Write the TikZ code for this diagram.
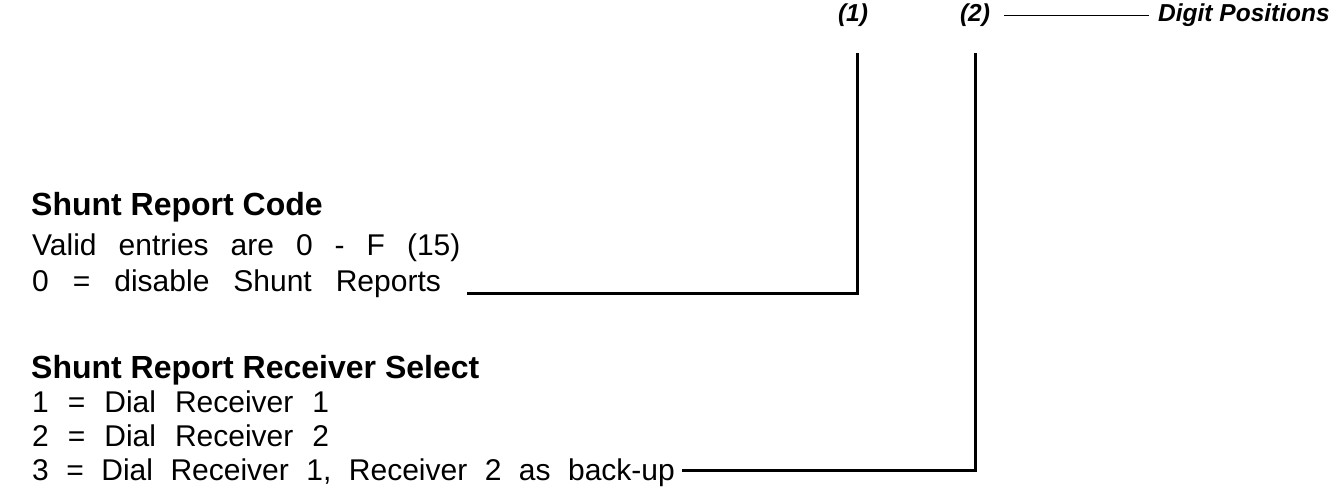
\documentclass[tikz,border=0pt]{standalone}
\usepackage{fontspec}
\setmainfont{Liberation Sans}
\usetikzlibrary{calc}
\begin{document}
\begin{tikzpicture}[x=1pt,y=-1pt,
  head/.style={anchor=base west,inner sep=0pt,font=\fontsize{32}{34}\selectfont\bfseries},
  body/.style={anchor=base west,inner sep=0pt,font=\fontsize{30}{32}\selectfont,
    execute at begin node={\frenchspacing\spaceskip=#1\relax}},
  body/.default=19pt,
  digit/.style={anchor=base,inner sep=0pt,font=\fontsize{24.5}{26}\selectfont\bfseries\itshape},
  conn/.style={line width=3pt,line cap=rect},
  thinline/.style={line width=1.4pt}]
\useasboundingbox (0,0) rectangle (1343,487);
% digit header
\node[digit] (d1) at (853,22) {(1)};
\node[digit] (d2) at (975,22) {(2)};
\node[digit,anchor=base west] (dp) at (1158,22) {Digit Positions};
\draw[thinline] ([xshift=14pt]d2.east) -- ([xshift=-9pt]dp.west);
% block 1
\node[head] (h1) at (31,215) {Shunt Report Code};
\node[body=22pt] (a1) at (32,255) {Valid entries are 0 - F (15)};
\node[body=24pt] (a2) at (32,291) {0 = disable Shunt Reports};
% block 2
\node[head] (h2) at (31,378) {Shunt Report Receiver Select};
\node[body] (b1) at (32,412) {1 = Dial Receiver 1};
\node[body] (b2) at (32,446) {2 = Dial Receiver 2};
\node[body=17.5pt] (b3) at (32,480) {3 = Dial Receiver 1, Receiver 2 as back-up};
% connectors
\coordinate (c1top) at (857,55);
\coordinate (c1end) at ($(a2.base east)+(27,2)$);
\coordinate (c2top) at (975,55);
\coordinate (c2end) at ($(b3.base east)+(8,-10)$);
\draw[conn] (c1top) |- (c1end);
\draw[conn] (c2top) |- (c2end);
\end{tikzpicture}
\end{document}
